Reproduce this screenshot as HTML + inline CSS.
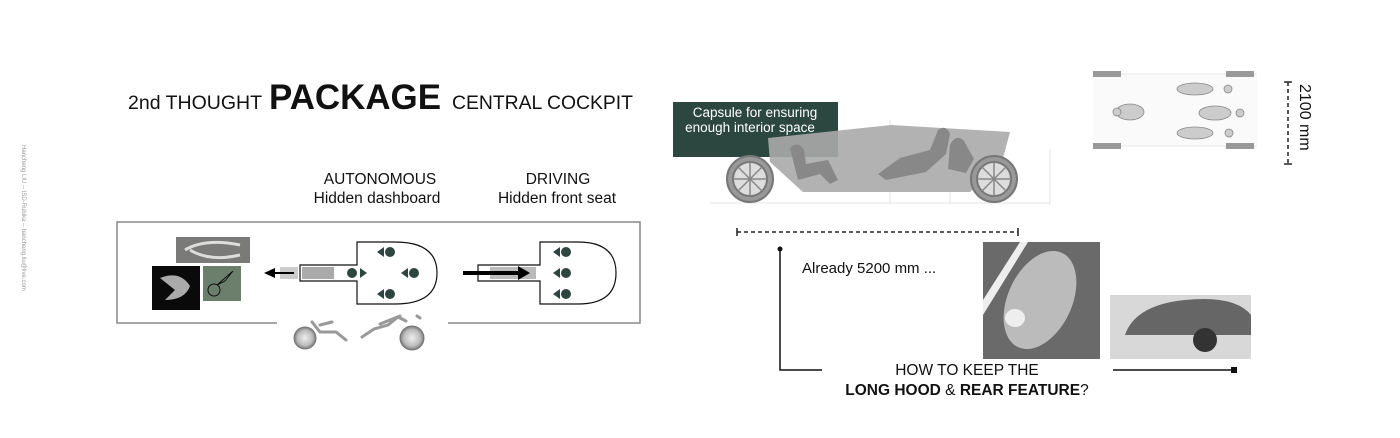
<!DOCTYPE html>
<html><head><style>
html,body{margin:0;padding:0;background:#fff;}
svg{display:block;}
text{font-family:"Liberation Sans",sans-serif;}
</style></head><body>
<svg width="1400" height="438" viewBox="0 0 1400 438" xmlns="http://www.w3.org/2000/svg">
<defs>
<radialGradient id="wg"><stop offset="0" stop-color="#eee"/><stop offset="0.7" stop-color="#bbb"/><stop offset="1" stop-color="#777"/></radialGradient>
</defs>
<text x="0" y="0" transform="translate(22,145) rotate(90)" font-size="6" fill="#999">Hancheng LIU -- ISD-Rubika -- hancheng.liu@live.com</text>
<text x="128" y="109" font-size="19" fill="#111" textLength="134" lengthAdjust="spacingAndGlyphs">2nd THOUGHT</text>
<text x="269" y="109" font-size="35" font-weight="bold" fill="#111" textLength="172" lengthAdjust="spacingAndGlyphs">PACKAGE</text>
<text x="452" y="109" font-size="19" fill="#111" textLength="181" lengthAdjust="spacingAndGlyphs">CENTRAL COCKPIT</text>
<g font-size="15.5" fill="#111" text-anchor="middle">
<text x="380" y="184">AUTONOMOUS</text>
<text x="377" y="203">Hidden dashboard</text>
<text x="558" y="184">DRIVING</text>
<text x="557" y="203">Hidden front seat</text>
</g>
<path d="M277 323 H117 V222 H640 V323 H448" fill="none" stroke="#888" stroke-width="1.5"/>
<rect x="176" y="237" width="74" height="26" fill="#7a7a78"/>
<path d="M185 250 q20 -12 55 -5 M190 250 q20 12 50 5" stroke="#ddd" stroke-width="3" fill="none"/>
<rect x="152" y="266" width="48" height="44" fill="#0a0a0a"/>
<path d="M160 278 q20 -8 30 8 q-5 14 -25 14 l10 -10z" fill="#aaa"/>
<rect x="203" y="266" width="38" height="35" fill="#6b7f6c"/>
<circle cx="214" cy="290" r="6" fill="none" stroke="#111"/><path d="M217 285 l16 -14 l-8 10z" fill="none" stroke="#111"/>
<path d="M300 265 H357 V242 H395 Q437 242 437 273 Q437 304 395 304 H357 V281 H300 Z" fill="#fff" stroke="#111" stroke-width="1.2"/>
<rect x="302" y="267" width="32" height="12" fill="#aaa"/>
<rect x="280" y="267" width="18" height="12" fill="#ccc"/>
<path d="M294 272 H275 V268 L264 273 L275 278 V274 H294 Z" fill="#000"/>
<g fill="#2e4540">
<circle cx="390" cy="252" r="5"/><path d="M384 247 V257 L377 252Z"/>
<circle cx="352" cy="273" r="5"/><path d="M360 268 V278 L367 273Z"/>
<circle cx="414" cy="273" r="5"/><path d="M408 268 V278 L401 273Z"/>
<circle cx="390" cy="294" r="5"/><path d="M384 289 V299 L377 294Z"/>
</g>
<path d="M478 265 H540 V242 H578 Q616 242 616 273 Q616 304 578 304 H540 V281 H478 Z" fill="#fff" stroke="#111" stroke-width="1.2"/>
<rect x="490" y="267" width="46" height="12" fill="#bbb"/>
<path d="M463 271 H518 V266 L530 273 L518 280 V275 H463 Z" fill="#000"/>
<g fill="#2e4540">
<circle cx="566" cy="252" r="5"/><path d="M560 247 V257 L553 252Z"/>
<circle cx="566" cy="273" r="5"/><path d="M560 268 V278 L553 273Z"/>
<circle cx="566" cy="294" r="5"/><path d="M560 289 V299 L553 294Z"/>
</g>
<circle cx="305" cy="338" r="11" fill="url(#wg)" stroke="#777"/>
<circle cx="412" cy="338" r="12" fill="url(#wg)" stroke="#777"/>
<g stroke="#999" stroke-width="3" fill="none" stroke-linecap="round">
<path d="M312 322 l8 10 h16 l10 8 M320 325 l12 -3"/>
<path d="M362 337 l12 -8 l14 -4 l10 -8 l8 4 M380 324 l20 -8 M420 318 l-3 -2"/>
</g>
<rect x="673" y="102" width="165" height="55" fill="#2c4740"/>
<text x="755" y="117" font-size="13.5" fill="#fff" text-anchor="middle">Capsule for ensuring</text>
<text x="750" y="132" font-size="13.5" fill="#fff" text-anchor="middle">enough interior space</text>
<g stroke="#e4e4e4" stroke-width="1" fill="none">
<path d="M710 203 H1050 M890 120 V205 M950 130 V205 M1050 150 V205"/>
</g>
<path d="M768 138 L891 125 L1010 132 L1002 162 L970 192 L803 192 L770 162 Z" fill="#aaa" opacity="0.9"/>
<g fill="#888">
<path d="M790 148 q8 -8 14 2 l2 14 l22 -4 l10 20 l-8 4 l-10 -10 l-22 6 z"/>
<path d="M900 158 l30 -8 l8 -20 q8 -6 12 4 l-4 20 l-20 18 l-40 8 l-8 -6 z"/>
<path d="M950 145 q6 -12 14 -4 l10 18 l-8 14 l-18 -4 z"/>
</g>
<g stroke="#777" stroke-width="2">
<circle cx="750" cy="179" r="23" fill="#999"/>
<circle cx="750" cy="179" r="17" fill="#ddd"/>
<circle cx="994" cy="179" r="23" fill="#999"/>
<circle cx="994" cy="179" r="17" fill="#ddd"/>
</g>
<g stroke="#888" stroke-width="1.5">
<path d="M733 179 H767 M750 162 V196 M738 167 L762 191 M762 167 L738 191"/>
<path d="M977 179 H1011 M994 162 V196 M982 167 L1006 191 M1006 167 L982 191"/>
</g>
<line x1="737" y1="232" x2="1018" y2="232" stroke="#222" stroke-width="1.5" stroke-dasharray="4,3"/>
<line x1="737" y1="228" x2="737" y2="236" stroke="#222" stroke-width="1.5"/>
<line x1="1018" y1="228" x2="1018" y2="236" stroke="#222" stroke-width="1.5"/>
<rect x="1093" y="73" width="164" height="74" fill="#f2f2f2"/>
<rect x="1093" y="75" width="164" height="70" fill="#fff" opacity="0.6"/>
<g fill="#999"><rect x="1093" y="71" width="28" height="6"/><rect x="1226" y="71" width="28" height="6"/><rect x="1093" y="143" width="28" height="6"/><rect x="1226" y="143" width="28" height="6"/></g>
<g fill="#ccc" stroke="#888" stroke-width="0.8">
<ellipse cx="1130" cy="112" rx="14" ry="8"/><ellipse cx="1195" cy="89" rx="18" ry="6"/><ellipse cx="1215" cy="113" rx="16" ry="7"/><ellipse cx="1195" cy="133" rx="18" ry="6"/>
<circle cx="1117" cy="112" r="4"/><circle cx="1228" cy="89" r="4"/><circle cx="1240" cy="113" r="4"/><circle cx="1229" cy="133" r="4"/>
</g>
<line x1="1288" y1="82" x2="1288" y2="164" stroke="#222" stroke-width="1.5" stroke-dasharray="4,3"/>
<line x1="1284" y1="82" x2="1292" y2="82" stroke="#222" stroke-width="1.5"/>
<line x1="1284" y1="164" x2="1292" y2="164" stroke="#222" stroke-width="1.5"/>
<text x="0" y="0" transform="translate(1300,84) rotate(90)" font-size="16" fill="#111">2100 mm</text>
<circle cx="780" cy="249" r="2.5" fill="#111"/>
<path d="M780 249 V370 H822" stroke="#111" stroke-width="1.5" fill="none"/>
<text x="802" y="273" font-size="15" fill="#111">Already 5200 mm ...</text>
<rect x="983" y="242" width="117" height="117" fill="#6a6a6a"/>
<path d="M983 300 L1020 242 H1028 L983 315 Z" fill="#eee"/>
<ellipse cx="1040" cy="300" rx="32" ry="52" transform="rotate(25 1040 300)" fill="#bbb"/>
<ellipse cx="1015" cy="318" rx="10" ry="9" fill="#eee"/>
<rect x="1110" y="295" width="141" height="64" fill="#d8d8d8"/>
<path d="M1125 335 q10 -30 60 -35 q50 -5 66 15 v20 z" fill="#666"/>
<circle cx="1205" cy="340" r="12" fill="#333"/>
<path d="M1113 370 H1235" stroke="#111" stroke-width="1.5"/>
<rect x="1231" y="367" width="6" height="6" fill="#111"/>
<text x="967" y="375" font-size="15.5" fill="#111" text-anchor="middle">HOW TO KEEP THE</text>
<text x="967" y="395" font-size="15.5" fill="#111" text-anchor="middle"><tspan font-weight="bold">LONG HOOD</tspan> &amp; <tspan font-weight="bold">REAR FEATURE</tspan>?</text>
</svg>
</body></html>
